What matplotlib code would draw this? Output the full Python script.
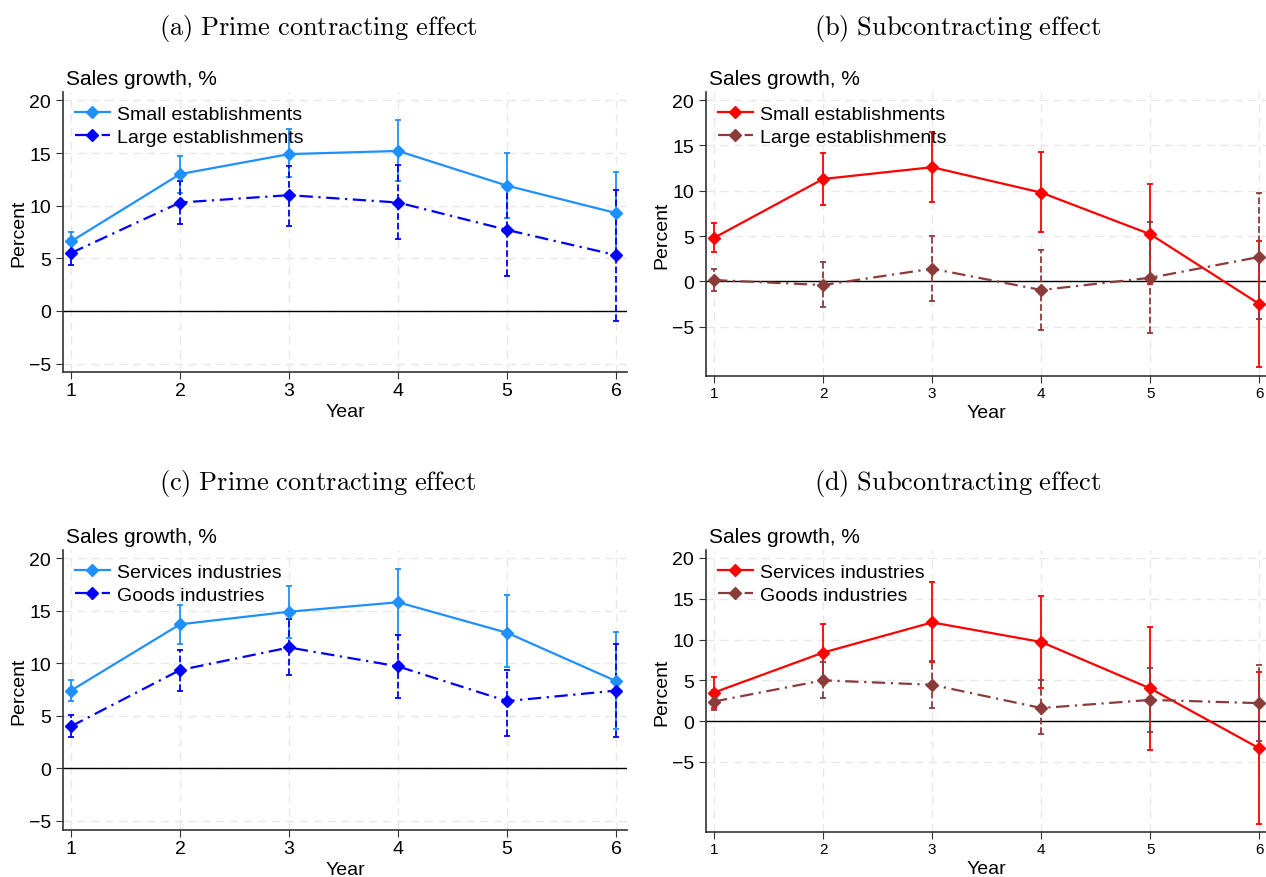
import numpy as np
import matplotlib
matplotlib.use("Agg")
import matplotlib.pyplot as plt
from matplotlib.lines import Line2D

plt.rcParams['font.family'] = ['Liberation Sans Narrow', 'Liberation Sans', 'DejaVu Sans']
plt.rcParams['mathtext.fontset'] = 'cm'

years = [1, 2, 3, 4, 5, 6]

# (a) prime contracting, by size
a_small = [6.6, 13.0, 14.9, 15.2, 11.9, 9.3]
a_small_lo = [5.6, 11.2, 12.7, 12.3, 8.8, 5.4]
a_small_hi = [7.5, 14.7, 17.3, 18.1, 15.0, 13.2]
a_large = [5.5, 10.3, 11.0, 10.3, 7.7, 5.3]
a_large_lo = [4.4, 8.3, 8.1, 6.8, 3.3, -1.0]
a_large_hi = [6.6, 12.3, 13.8, 13.9, 12.1, 11.5]

# (b) subcontracting, by size
b_small = [4.8, 11.3, 12.6, 9.8, 5.2, -2.5]
b_small_lo = [3.2, 8.4, 8.8, 5.4, -0.3, -9.5]
b_small_hi = [6.4, 14.2, 16.5, 14.3, 10.7, 4.5]
b_large = [0.15, -0.4, 1.4, -0.95, 0.4, 2.7]
b_large_lo = [-1.1, -2.8, -2.2, -5.4, -5.7, -4.2]
b_large_hi = [1.4, 2.1, 5.0, 3.5, 6.5, 9.8]

# (c) prime contracting, by industry
c_serv = [7.4, 13.7, 14.9, 15.8, 12.9, 8.3]
c_serv_lo = [6.4, 11.8, 12.4, 12.7, 9.6, 3.7]
c_serv_hi = [8.4, 15.5, 17.3, 19.0, 16.5, 13.0]
c_goods = [4.0, 9.35, 11.5, 9.7, 6.4, 7.4]
c_goods_lo = [3.0, 7.4, 8.9, 6.7, 3.1, 3.0]
c_goods_hi = [5.1, 11.25, 14.2, 12.7, 9.4, 11.8]

# (d) subcontracting, by industry
d_serv = [3.5, 8.4, 12.1, 9.7, 4.0, -3.35]
d_serv_lo = [1.55, 4.9, 7.3, 4.1, -3.5, -12.65]
d_serv_hi = [5.4, 11.9, 17.0, 15.35, 11.5, 6.0]
d_goods = [2.4, 5.0, 4.45, 1.6, 2.6, 2.2]
d_goods_lo = [1.3, 2.8, 1.6, -1.6, -1.3, -2.5]
d_goods_hi = [3.8, 7.2, 7.35, 5.0, 6.5, 6.9]

W, H = 1266, 878
fig = plt.figure(figsize=(W / 100, H / 100), dpi=100)

DASHDOT = (0, (6, 2.5, 1, 2.5))


def px_axes(left, top, right, bottom):
    return fig.add_axes([left / W, 1 - bottom / H, (right - left) / W, (bottom - top) / H])


def draw_panel(ax, title, tx, ty, labels, first, second, colors, ylim, xlim, tick_size):
    c1, c2 = colors
    handles = []
    for (y, lo, hi), col, ls, ebls, lab in [
        (first, c1, '-', '-', labels[0]),
        (second, c2, DASHDOT, '--', labels[1]),
    ]:
        y = np.array(y)
        err = [y - np.array(lo), np.array(hi) - y]
        line, caps, bars = ax.errorbar(years, y, yerr=err, color=col, ls=ls, lw=1.6,
                                       marker='D', ms=6, capsize=2.5, elinewidth=1.3,
                                       capthick=1.3, zorder=3)
        for b in bars:
            b.set_linestyle(ebls)
        handles.append(Line2D([], [], color=col, ls=ls, lw=1.6, marker='D', ms=6, label=lab))
    ax.axhline(0, color='black', lw=1, zorder=2)
    ax.set_xlim(*xlim)
    ax.set_ylim(*ylim)
    ax.set_xticks(years)
    ax.set_yticks([-5, 0, 5, 10, 15, 20])
    ax.grid(True, color='#e8e8e8', ls=(0, (6, 4)), lw=1)
    ax.set_axisbelow(True)
    for s in ['top', 'right']:
        ax.spines[s].set_visible(False)
    for s in ['left', 'bottom']:
        ax.spines[s].set_color('#333333')
        ax.spines[s].set_linewidth(1.2)
    ax.tick_params(axis='x', labelsize=tick_size, color='#333333', length=5, pad=2)
    ax.tick_params(axis='y', labelsize=14, color='#333333', length=5)
    ax.set_xlabel('Year', fontsize=14, labelpad=3)
    ax.set_ylabel('Percent', fontsize=14, labelpad=1)
    ax.text(0.005, 1.015, 'Sales growth, %', transform=ax.transAxes, fontsize=15,
            ha='left', va='bottom')
    ax.legend(handles=handles, loc='upper left', frameon=False, fontsize=14,
              handlelength=1.8, borderaxespad=0.2, labelspacing=0.3, handletextpad=0.4,
              bbox_to_anchor=(0.0, 0.995))
    fig.text(tx / W, 1 - ty / H, title, fontsize=19, ha='center', va='center')


blues = ('#1e90ff', '#0000ff')
reds = ('#ff0000', '#8c3b3b')
size_labels = ['Small establishments', 'Large establishments']
ind_labels = ['Services industries', 'Goods industries']

ax_a = px_axes(63, 93, 627, 373)
draw_panel(ax_a, r'$\mathrm{(a)\ Prime\ contracting\ effect}$', 318, 28, size_labels,
           (a_small, a_small_lo, a_small_hi), (a_large, a_large_lo, a_large_hi),
           blues, (-5.8, 20.8), (0.927, 6.1), 14)

ax_b = px_axes(706, 93, 1266, 377)
draw_panel(ax_b, r'$\mathrm{(b)\ Subcontracting\ effect}$', 958, 28, size_labels,
           (b_small, b_small_lo, b_small_hi), (b_large, b_large_lo, b_large_hi),
           reds, (-10.44, 20.9), (0.927, 6.06), 11)

ax_c = px_axes(63, 551, 627, 831)
draw_panel(ax_c, r'$\mathrm{(c)\ Prime\ contracting\ effect}$', 318, 484, ind_labels,
           (c_serv, c_serv_lo, c_serv_hi), (c_goods, c_goods_lo, c_goods_hi),
           blues, (-5.86, 20.77), (0.927, 6.1), 14)

ax_d = px_axes(706, 551, 1266, 833)
draw_panel(ax_d, r'$\mathrm{(d)\ Subcontracting\ effect}$', 958, 484, ind_labels,
           (d_serv, d_serv_lo, d_serv_hi), (d_goods, d_goods_lo, d_goods_hi),
           reds, (-13.6, 20.98), (0.927, 6.06), 11)

fig.savefig('out.png', dpi=100)
